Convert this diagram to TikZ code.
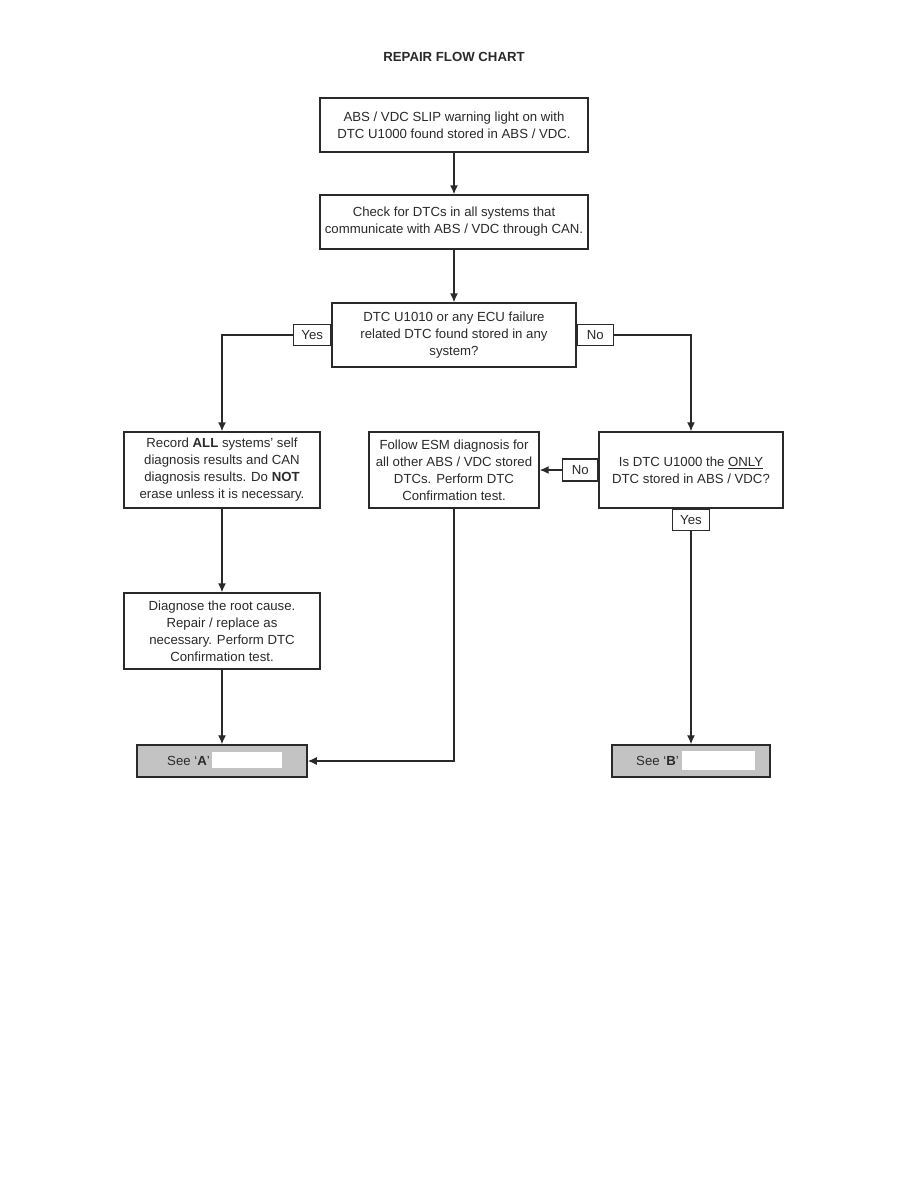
\documentclass[tikz,border=0pt]{standalone}
\usepackage{fontspec}
\setmainfont{Liberation Sans}
\usetikzlibrary{arrows.meta}
\definecolor{ln}{HTML}{2A2A2A}
\definecolor{gr}{HTML}{C3C3C3}
\tikzset{
  every node/.style={font=\fontsize{13.2}{17}\selectfont, text=ln},
  box/.style={draw=ln, line width=1.3pt, fill=white, align=center, inner sep=0pt},
  lbl/.style={draw=ln, line width=1.3pt, fill=white, inner sep=0pt},
  seebox/.style={draw=ln, line width=1.5pt, fill=gr, inner sep=0pt},
  conn/.style={draw=ln, line width=1.4pt},
  arr/.style={conn, -{Latex[length=9pt,width=8pt]}},
}
\begin{document}
\begin{tikzpicture}[x=1pt,y=-1pt]
\useasboundingbox (0,0) rectangle (918,1188);
\node[font=\fontsize{13.2}{15}\selectfont\bfseries] (title) at (454,57) {REPAIR FLOW CHART};

\node[box, minimum width=268pt, minimum height=54pt] (b1) at (454,125)
  {ABS / VDC SLIP warning light on with\\DTC U1000 found stored in ABS / VDC.};
\node[box, minimum width=268pt, minimum height=54pt] (b2) at (454,222)
  {Check for DTCs in all systems that\\communicate with ABS / VDC through CAN.};
\node[box, minimum width=244pt, minimum height=64pt] (q1) at (454,335)
  {DTC U1010 or any ECU failure\\related DTC found stored in any\\system?};
\node[lbl, minimum width=37pt, minimum height=21pt, anchor=east] (yes1) at (q1.west) {Yes};
\node[lbl, minimum width=36pt, minimum height=21pt, anchor=west] (no1) at (q1.east) {No};

\node[box, minimum width=196pt, minimum height=76pt] (b4) at (222,470)
  {Record \textbf{ALL} systems’ self\\diagnosis results and CAN\\diagnosis results. Do \textbf{NOT}\\erase unless it is necessary.};
\node[box, minimum width=170pt, minimum height=76pt] (b5) at (454,470)
  {Follow ESM diagnosis for\\all other ABS / VDC stored\\DTCs. Perform DTC\\Confirmation test.};
\node[box, minimum width=184pt, minimum height=76pt] (q2) at (691,470)
  {Is DTC U1000 the \underline{ONLY}\\DTC stored in ABS / VDC?};
\node[lbl, minimum width=35pt, minimum height=22pt, anchor=east] (no2) at (q2.west) {No};
\node[lbl, minimum width=37pt, minimum height=21pt, anchor=north] (yes2) at (q2.south) {Yes};

\node[box, minimum width=196pt, minimum height=76pt] (b7) at (222,631)
  {Diagnose the root cause.\\Repair / replace as\\necessary. Perform DTC\\Confirmation test.};

\node[seebox, minimum width=170pt, minimum height=32pt] (sa) at (222,761) {};
\node[anchor=west, inner sep=0pt] (ta) at (167,761) {See ‘\textbf{A}’};
\fill[white] (212,752) rectangle (282,768);
\node[seebox, minimum width=158pt, minimum height=32pt] (sb) at (691,761) {};
\node[anchor=west, inner sep=0pt] (tb) at (636,761) {See ‘\textbf{B}’};
\fill[white] (682,751) rectangle (755,770);

\draw[arr] (b1.south) -- (b2.north);
\draw[arr] (b2.south) -- (q1.north);
\draw[arr] (yes1.west) -| (b4.north);
\draw[arr] (no1.east) -| (q2.north);
\draw[arr] (no2.west) -- (b5.east);
\draw[arr] (yes2.south) -- (sb.north);
\draw[arr] (b4.south) -- (b7.north);
\draw[arr] (b7.south) -- (sa.north);
\draw[arr] (b5.south) |- (sa.east);
\end{tikzpicture}
\end{document}
